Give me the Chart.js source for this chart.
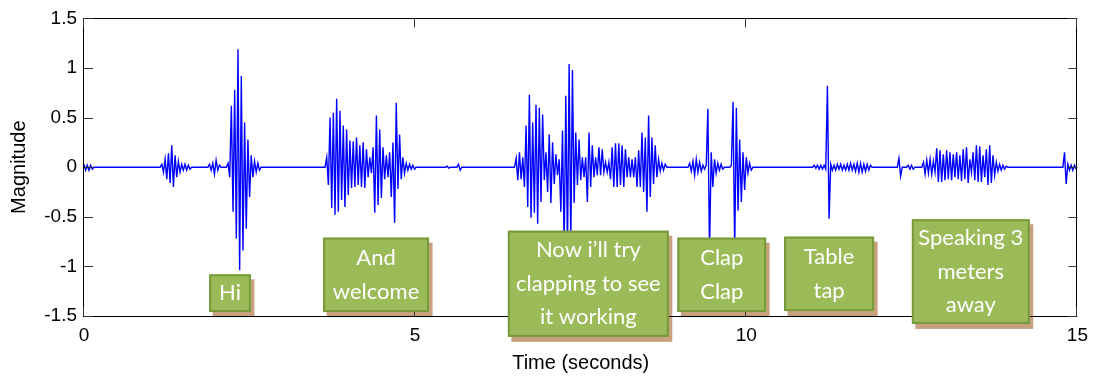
<!DOCTYPE html>
<html>
<head>
<meta charset="utf-8">
<script src="https://cdn.jsdelivr.net/npm/chart.js@4"></script>
<style>
  html, body { margin: 0; padding: 0; background: #fff; }
  canvas { display: block; }
</style>
</head>
<body>
<canvas id="wave" width="1096" height="376"></canvas>
<script>
// Recording envelope: one value every sampleStep seconds inside each sound event,
// alternating sign like the raw waveform. Silence between events sits at 0.
const sampleStep = 0.025;
const segmentStarts = [0.0, 1.15, 1.87, 2.15, 3.64, 5.46, 5.63, 6.50, 9.12, 9.75, 11.0, 12.28, 12.42, 12.65, 14.78];

const leadNoise = [0.03, -0.03, 0.02, -0.03, 0.02, -0.02, 0];
const breath = [0, 0.03, -0.05, 0.08, -0.12, 0.14, -0.16, 0.22, -0.20, 0.12, -0.10, 0.06, -0.05, 0.03, -0.03, 0.03, -0.03, 0.02, -0.02, 0];
const click = [0, 0.03, -0.03, 0.04, -0.07, 0.07, -0.03, 0.02, 0];
const hiWord = [0, 0.04, -0.10, 0.62, -0.45, 0.78, -0.72, 1.19, -1.04, 0.92, -0.84, 0.45, -0.62, 0.28, -0.30, 0.12, -0.10, 0.06, -0.05, 0.04, -0.03, 0];
const andWelcome = [0, 0.10, -0.18, 0.50, -0.41, 0.55, -0.48, 0.69, -0.45, 0.57, -0.33, 0.42, -0.40, 0.38, -0.28, 0.27,
  -0.21, 0.26, -0.20, 0.30, -0.18, 0.22, -0.20, 0.25, -0.21, 0.18, -0.10, 0.10, -0.06, 0.20, -0.46, 0.52, -0.38, 0.38,
  -0.31, 0.20, -0.12, 0.12, -0.10, 0.15, -0.30, 0.25, -0.56, 0.65, -0.22, 0.33, -0.12, 0.10, -0.06, 0.04, -0.03, 0.03,
  -0.02, 0.02, -0.02, 0];
const blipA = [0, 0.01, -0.01, 0];
const blipB = [0, 0.03, -0.03, 0];
const clappingPhrase = [0, 0.09, -0.13, 0.15, -0.12, 0.10, -0.20, 0.42, -0.40, 0.73, -0.51, 0.45, -0.46, 0.63, -0.57, 0.60,
  -0.35, 0.53, -0.13, 0.15, -0.25, 0.33, -0.36, 0.25, -0.17, 0.13, -0.08, 0.08, -0.45, 0.37, -0.80, 0.72, -0.85, 1.04,
  -0.80, 0.98, -0.36, 0.35, -0.18, 0.28, -0.13, 0.10, -0.10, 0.10, -0.35, 0.35, -0.20, 0.22, -0.10, 0.10, -0.08, 0.20,
  -0.08, 0.18, -0.05, 0.05, -0.05, 0.05, -0.12, 0.20, -0.20, 0.24, -0.20, 0.24, -0.18, 0.22, -0.20, 0.18, -0.10, 0.10,
  -0.10, 0.08, -0.10, 0.10, -0.20, 0.17, -0.20, 0.35, -0.25, 0.30, -0.45, 0.52, -0.30, 0.30, -0.17, 0.22, -0.10, 0.08,
  -0.04, 0.04, -0.03, 0.03, 0];
const firstClap = [0, 0.04, -0.04, 0.06, -0.08, 0.08, -0.05, 0.05, -0.04, 0.02, -0.02, 0.02, 0.59, -0.85, 0.15, -0.20,
  0.08, -0.06, 0.04, -0.03, 0.03, -0.02, 0];
const secondClap = [0, 0.02, 0.66, -0.85, 0.60, -0.44, 0.28, -0.35, 0.15, -0.23, 0.10, -0.06, 0.04, -0.03, 0];
const tableTap = [0, 0.02, -0.01, 0.02, -0.02, 0.02, -0.02, 0.02, -0.02, 0.82, -0.52, 0.03, -0.03, 0.02, -0.03, 0.03,
  -0.02, 0.03, -0.03, 0.02, -0.03, 0.03, -0.03, 0.04, -0.03, 0.03, -0.04, 0.04, -0.05, 0.04, -0.05, 0.03, -0.04, 0.03,
  -0.03, 0.02, 0];
const tick = [0, 0.09, -0.09, 0];
const rustle = [0, 0.02, -0.02, 0.02, -0.02, 0];
const farSpeech = [0, 0.05, -0.07, 0.07, -0.06, 0.08, -0.07, 0.06, -0.05, 0.19, -0.15, 0.17, -0.15, 0.13, -0.13, 0.17,
  -0.12, 0.15, -0.13, 0.13, -0.10, 0.15, -0.12, 0.12, -0.14, 0.18, -0.12, 0.20, -0.16, 0.08, -0.05, 0.15, -0.13, 0.22,
  -0.15, 0.21, -0.15, 0.12, -0.10, 0.18, -0.18, 0.22, -0.16, 0.12, -0.08, 0.05, -0.04, 0.03, -0.03, 0.02, -0.02, 0.01, 0];
const tailNoise = [0, 0.15, -0.17, 0.03, -0.03, 0.02, -0.03, 0.02, -0.02];

const segments = [leadNoise, breath, click, hiWord, andWelcome, blipA, blipB, clappingPhrase,
  firstClap, secondClap, tableTap, tick, rustle, farSpeech, tailNoise];

// Axis ticks
const timeTicks = [0, 5, 10, 15];
const magnitudeTicks = [-1.5, -1, -0.5, 0, 0.5, 1, 1.5];

// Callout boxes (time span in seconds, vertical span in magnitude units)
const noteLines = [['Hi'], ['And', 'welcome'], ['Now i’ll try', 'clapping to see', 'it working'],
  ['Clap', 'Clap'], ['Table', 'tap'], ['Speaking 3', 'meters', 'away']];
const noteFrom = [1.89, 3.61, 6.40, 8.96, 10.57, 12.50];
const noteTo = [2.52, 5.21, 8.83, 10.30, 11.93, 14.28];
const noteTop = [-1.08, -0.71, -0.64, -0.71, -0.70, -0.525];
const noteBottom = [-1.46, -1.46, -1.71, -1.46, -1.45, -1.58];

const points = [];
segments.forEach((vals, k) => {
  vals.forEach((v, i) => points.push({ x: segmentStarts[k] + i * sampleStep, y: v }));
});

const axisFont = { family: "'Liberation Sans', Arial, sans-serif", size: 19 };
const titleFont = { family: "'Liberation Sans', Arial, sans-serif", size: 20 };

// Box frame with inward tick marks on all four sides, then the callouts on top.
const framePlugin = {
  id: 'frame',
  afterDatasetsDraw(chart) {
    const { ctx, chartArea: a, scales: { x, y } } = chart;
    ctx.save();

    // callout shadows
    ctx.fillStyle = 'rgba(190, 145, 105, 0.85)';
    noteLines.forEach((_, i) => {
      const l = x.getPixelForValue(noteFrom[i]), r = x.getPixelForValue(noteTo[i]);
      const t = y.getPixelForValue(noteTop[i]), b = y.getPixelForValue(noteBottom[i]);
      ctx.fillRect(l + 3.5, t + 5, r - l, b - t);
    });

    ctx.strokeStyle = '#000';
    ctx.lineWidth = 1;
    ctx.strokeRect(Math.round(a.left) - 0.5, Math.round(a.top) + 0.5,
      Math.round(a.right) - Math.round(a.left), Math.round(a.bottom) - Math.round(a.top));

    ctx.strokeStyle = '#333';
    const len = 9;
    ctx.beginPath();
    timeTicks.forEach(v => {
      const px = Math.round(x.getPixelForValue(v)) - 0.5;
      ctx.moveTo(px, a.bottom); ctx.lineTo(px, a.bottom - len);
      ctx.moveTo(px, a.top); ctx.lineTo(px, a.top + len);
    });
    magnitudeTicks.forEach(v => {
      const py = Math.round(y.getPixelForValue(v)) + 0.5;
      ctx.moveTo(a.left, py); ctx.lineTo(a.left + len, py);
      ctx.moveTo(a.right, py); ctx.lineTo(a.right - len, py);
    });
    ctx.stroke();

    // callout boxes
    noteLines.forEach((lines, i) => {
      const l = x.getPixelForValue(noteFrom[i]), r = x.getPixelForValue(noteTo[i]);
      const t = y.getPixelForValue(noteTop[i]), b = y.getPixelForValue(noteBottom[i]);
      ctx.fillStyle = '#9bbb59';
      ctx.fillRect(l, t, r - l, b - t);
      ctx.strokeStyle = '#789a3a';
      ctx.lineWidth = 2;
      ctx.strokeRect(l + 1, t + 1, r - l - 2, b - t - 2);
      ctx.fillStyle = '#ffffff';
      ctx.font = "22px Lato, 'Open Sans', sans-serif";
      ctx.textAlign = 'center';
      ctx.textBaseline = 'middle';
      const lh = 33.5;
      const cx = (l + r) / 2, cy = (t + b) / 2;
      lines.forEach((s, j) => {
        ctx.fillText(s, cx, cy + (j - (lines.length - 1) / 2) * lh);
      });
    });
    ctx.restore();
  }
};

new Chart(document.getElementById('wave'), {
  type: 'line',
  data: {
    datasets: [{
      data: points,
      borderColor: '#0000ff',
      borderWidth: 1.4,
      pointRadius: 0,
      tension: 0,
      fill: false
    }]
  },
  options: {
    responsive: false,
    animation: false,
    devicePixelRatio: 1,
    layout: { padding: { top: 15, right: 16, left: 0, bottom: 0 } },
    plugins: { legend: { display: false }, tooltip: { enabled: false } },
    scales: {
      x: {
        type: 'linear', min: 0, max: 15,
        afterBuildTicks: s => { s.ticks = timeTicks.map(v => ({ value: v })); },
        ticks: { font: axisFont, color: '#000', padding: 8, maxRotation: 0, callback: v => String(v) },
        grid: { display: false, drawTicks: false },
        border: { display: false },
        title: { display: true, text: 'Time (seconds)', font: titleFont, color: '#000', padding: { top: 0, bottom: 0.5 } },
        afterFit: s => { s.height = 60; }
      },
      y: {
        type: 'linear', min: -1.5, max: 1.5,
        afterBuildTicks: s => { s.ticks = magnitudeTicks.map(v => ({ value: v })); },
        ticks: { font: axisFont, color: '#000', padding: 7, callback: v => String(v) },
        grid: { display: false, drawTicks: false },
        border: { display: false },
        title: { display: true, text: 'Magnitude', font: titleFont, color: '#000', padding: { top: 7, bottom: 0 } },
        afterFit: s => { s.width = 84; }
      }
    }
  },
  plugins: [framePlugin]
});
</script>
</body>
</html>
